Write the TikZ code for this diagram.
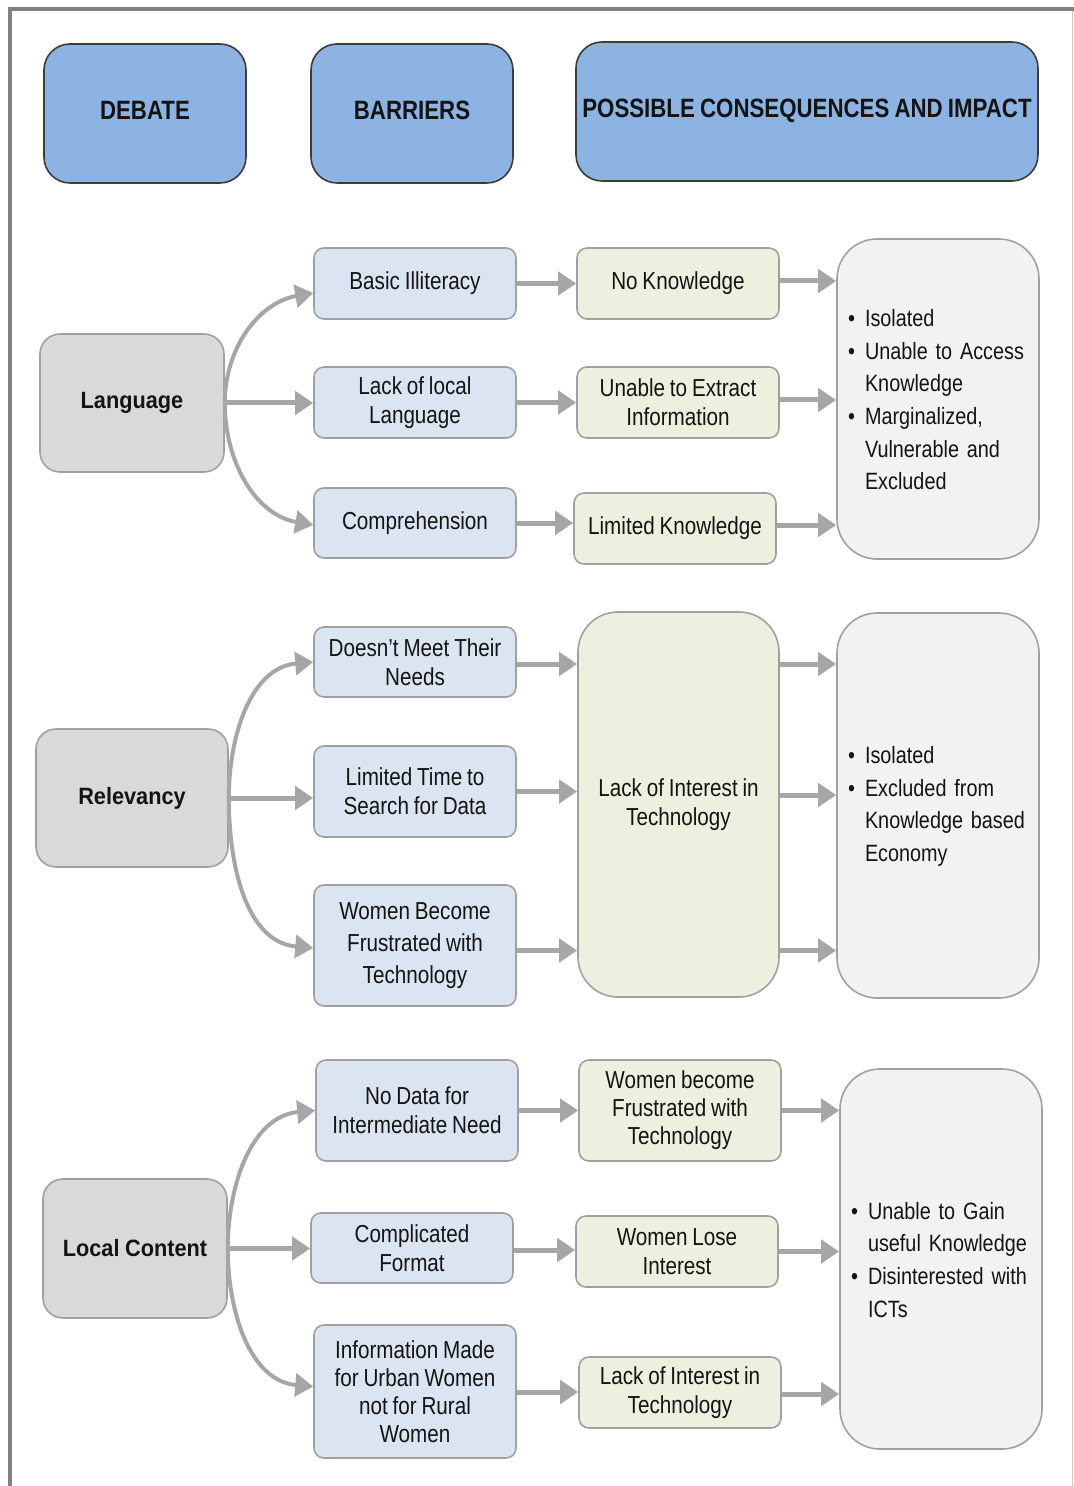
\documentclass[tikz,border=0pt]{standalone}
\usepackage{fontspec}
\setmainfont{Liberation Sans}[FakeStretch=0.84, WordSpace=0.84]
\newfontfamily\catfont{Liberation Sans}[FakeStretch=0.92, WordSpace=0.92]
\usetikzlibrary{arrows.meta}

\definecolor{hdrblue}{HTML}{8DB3E2}
\definecolor{hdrline}{HTML}{3C3C3C}
\definecolor{catgray}{HTML}{D9D9D9}
\definecolor{barblue}{HTML}{DBE5F1}
\definecolor{congreen}{HTML}{EBF1DE}
\definecolor{impgray}{HTML}{F2F2F2}
\definecolor{boxline}{HTML}{A0A0A0}
\definecolor{arrowgray}{HTML}{A6A6A6}
\definecolor{framegray}{HTML}{808080}
\definecolor{inktext}{HTML}{141414}

% bullet line and continuation line for the impact boxes
\newcommand\bul[1]{\par\noindent\makebox[8.5pt][l]{\textbullet}\mbox{#1}}
\newcommand\cont[1]{\par\noindent\hspace*{8.5pt}\mbox{#1}}
\newcommand\listend{\par\vspace*{7pt}}

\begin{document}
\begin{tikzpicture}[x=0.5pt,y=-0.5pt,
  sz/.style 2 args={minimum width=#1*0.5pt, minimum height=#2*0.5pt},
  box/.style={draw=boxline, line width=0.8pt, inner sep=1pt, align=center,
    text=inktext, font=\fontsize{12.3}{14.5}\selectfont},
  hdr/.style={box, fill=hdrblue, draw=hdrline, rounded corners=13pt,
    text depth=3.5pt, font=\fontsize{13.25}{15}\selectfont\bfseries},
  cat/.style={box, fill=catgray, draw=boxline, rounded corners=10pt,
    font=\fontsize{11.8}{14}\selectfont\catfont\bfseries},
  bar/.style={box, fill=barblue, rounded corners=5pt},
  con/.style={box, fill=congreen, rounded corners=5pt},
  bigcon/.style={box, fill=congreen, rounded corners=20pt},
  imp/.style={box, fill=impgray, rounded corners=20pt, align=left,
    text width=90pt, inner sep=0pt, font=\fontsize{11.8}{16.3}\selectfont},
  flow/.style={draw=arrowgray, line width=2.5pt,
    -{Triangle[length=9pt,width=11.5pt]}},
  branch/.style={flow, line width=2pt},
]
\useasboundingbox (0,0) rectangle (1074,1486);

% page frame
\draw[framegray, line width=2pt] (9.5,1486) -- (9.5,9) -- (1074,9);
\draw[black!22, line width=0.5pt] (1072.5,11) -- (1072.5,1486);

% column headers
\node[hdr, sz={202}{139}] (hDeb) at (145,113.5) {DEBATE};
\node[hdr, sz={202}{139}] (hBar) at (412,113.5) {BARRIERS};
\node[hdr, sz={462}{139}] (hCon) at (807,111.5) {POSSIBLE CONSEQUENCES AND IMPACT};

% ---------- Language ----------
\node[cat, sz={184}{138}] (lang) at (132,403) {Language};
\node[bar, sz={202}{71}] (b1) at (415,283.5) {Basic Illiteracy};
\node[bar, sz={202}{71}] (b2) at (415,402.5) {Lack of local\\Language};
\node[bar, sz={202}{70}] (b3) at (415,523) {Comprehension};
\node[con, sz={202}{71}] (c1) at (678,283.5) {No Knowledge};
\node[con, sz={202}{71}] (c2) at (678,402.5) {Unable to Extract\\Information};
\node[con, sz={202}{71}] (c3) at (675,528.5) {Limited Knowledge};
\node[imp, sz={202}{320}] (i1) at (938,399)
  {\bul{Isolated}\bul{Unable to Access}\cont{Knowledge}%
   \bul{Marginalized,}\cont{Vulnerable and}\cont{Excluded}\listend};

\draw[branch] (lang.east) to[out=90,in=190] ([yshift=-4.75pt]b1.west);
\draw[flow]   (lang.east) -- (lang.east -| b2.west);
\draw[branch] (lang.east) to[out=-90,in=170] ([yshift=-1pt]b3.west);
\draw[flow] (b1.east) -- (b1.east -| c1.west);
\draw[flow] (b2.east) -- (b2.east -| c2.west);
\draw[flow] (b3.east) -- (b3.east -| c3.west);
\draw[flow] ([yshift=1.25pt]c1.east) -- ([yshift=1.25pt]c1.east -| i1.west);
\draw[flow] ([yshift=1.25pt]c2.east) -- ([yshift=1.25pt]c2.east -| i1.west);
\draw[flow] ([yshift=1.75pt]c3.east) -- ([yshift=1.75pt]c3.east -| i1.west);

% ---------- Relevancy ----------
\node[cat, sz={192}{138}] (rel) at (132,798) {Relevancy};
\node[bar, sz={202}{70}] (b4) at (415,662) {Doesn’t Meet Their\\Needs};
\node[bar, sz={202}{91}] (b5) at (415,791.5) {Limited Time to\\Search for Data};
\node[bar, sz={202}{121}, font=\fontsize{12.3}{16}\selectfont] (b6) at (415,945.5)
  {Women Become\\Frustrated with\\Technology};
\node[bigcon, sz={201}{385}] (c4) at (678.5,804.5) {Lack of Interest in\\Technology};
\node[imp, sz={202}{385}] (i2) at (938,805.5)
  {\bul{Isolated}\bul{Excluded from}\cont{Knowledge based}\cont{Economy}\listend};

\draw[branch] (rel.east) to[out=90,in=185] (b4.west);
\draw[flow]   (rel.east) -- (rel.east -| b5.west);
\draw[branch] (rel.east) to[out=-90,in=175] ([yshift=-1.25pt]b6.west);
\draw[flow] ([yshift=-1pt]b4.east) -- ([yshift=-1pt]b4.east -| c4.west);
\draw[flow] (b5.east) -- (b5.east -| c4.west);
\draw[flow] ([yshift=-2.5pt]b6.east) -- ([yshift=-2.5pt]b6.east -| c4.west);
\draw[flow] ([yshift=-1pt]b4.east -| c4.east) -- ([yshift=-1pt]b4.east -| i2.west);
\draw[flow] ([yshift=-1.75pt]b5.east -| c4.east) -- ([yshift=-1.75pt]b5.east -| i2.west);
\draw[flow] ([yshift=-2.5pt]b6.east -| c4.east) -- ([yshift=-2.5pt]b6.east -| i2.west);

% ---------- Local Content ----------
\node[cat, sz={184}{139}] (loc) at (135,1248.5) {Local Content};
\node[bar, sz={202}{101}] (b7) at (417,1110.5) {No Data for\\Intermediate Need};
\node[bar, sz={202}{70}] (b8) at (412,1248) {Complicated\\Format};
\node[bar, sz={202}{133}, font=\fontsize{12.3}{14}\selectfont] (b9) at (415,1391.5)
  {Information Made\\for Urban Women\\not for Rural\\Women};
\node[con, sz={202}{101}, font=\fontsize{12.3}{14}\selectfont] (c5) at (680,1110.5)
  {Women become\\Frustrated with\\Technology};
\node[con, sz={202}{71}] (c6) at (677,1251.5) {Women Lose\\Interest};
\node[con, sz={202}{71}] (c7) at (680,1392.5) {Lack of Interest in\\Technology};
\node[imp, sz={202}{380}] (i3) at (941,1259)
  {\bul{Unable to Gain}\cont{useful Knowledge}\bul{Disinterested with}\cont{ICTs}\listend};

\draw[branch] (loc.east) to[out=90,in=185] (b7.west);
\draw[flow]   (loc.east) -- (loc.east -| b8.west);
\draw[branch] (loc.east) to[out=-90,in=175] ([yshift=2.5pt]b9.west);
\draw[flow] (b7.east) -- (b7.east -| c5.west);
\draw[flow] ([yshift=-1pt]b8.east) -- ([yshift=-1pt]b8.east -| c6.west);
\draw[flow] ([yshift=-0.25pt]b9.east) -- ([yshift=-0.25pt]b9.east -| c7.west);
\draw[flow] (c5.east) -- (c5.east -| i3.west);
\draw[flow] (c6.east) -- (c6.east -| i3.west);
\draw[flow] ([yshift=-0.75pt]c7.east) -- ([yshift=-0.75pt]c7.east -| i3.west);
\end{tikzpicture}
\end{document}
